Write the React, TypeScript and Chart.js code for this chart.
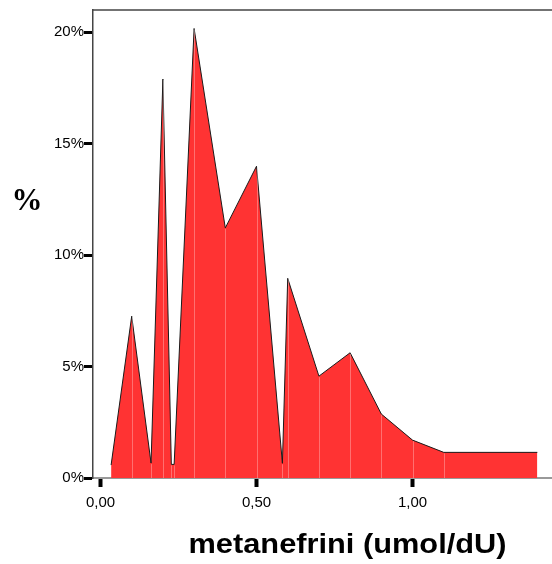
import React, { useEffect, useRef } from 'react';
import { Chart, registerables } from 'chart.js';

Chart.register(...registerables);

// metanefrini (umol/dU) values
const xValues = [0.034, 0.1, 0.162, 0.2, 0.227, 0.236, 0.3, 0.4, 0.5, 0.583, 0.6, 0.7, 0.8, 0.9, 1.0, 1.1, 1.4];
// percent of cases
const percentValues = [0.58, 7.26, 0.67, 17.9, 0.61, 0.61, 20.17, 11.22, 13.99, 0.66, 8.96, 4.57, 5.62, 2.87, 1.7, 1.15, 1.15];

const xTicks = [0, 0.5, 1.0];
const yTicks = [0, 5, 10, 15, 20];
const xTitle = 'metanefrini (umol/dU)';
const yTitle = '%';

const overlay = {
  id: 'overlay',
  afterDatasetsDraw(chart: any) {
    const { ctx, scales, chartArea } = chart;
    const xs = scales.x;
    const ys = scales.y;
    ctx.save();
    ctx.strokeStyle = 'rgba(255,255,255,0.3)';
    ctx.lineWidth = 1;
    for (let i = 1; i < xValues.length - 1; i++) {
      const px = Math.round(xs.getPixelForValue(xValues[i])) + 0.5;
      ctx.beginPath();
      ctx.moveTo(px, ys.getPixelForValue(percentValues[i]) + 1);
      ctx.lineTo(px, ys.getPixelForValue(0));
      ctx.stroke();
    }
    // top border
    ctx.strokeStyle = '#444';
    ctx.lineWidth = 1.5;
    ctx.beginPath();
    ctx.moveTo(chartArea.left, chartArea.top);
    ctx.lineTo(chart.width, chartArea.top);
    ctx.stroke();
    ctx.restore();
  },
  afterDraw(chart: any) {
    const { ctx } = chart;
    ctx.save();
    ctx.fillStyle = '#000';
    ctx.font = 'bold 27px "Liberation Sans", Arial, sans-serif';
    ctx.textAlign = 'center';
    ctx.textBaseline = 'alphabetic';
    const w = ctx.measureText(xTitle).width;
    const sx = 318 / w;
    ctx.translate(347.5, 553);
    ctx.scale(sx, 1);
    ctx.fillText(xTitle, 0, 0);
    ctx.restore();
    ctx.save();
    ctx.fillStyle = '#000';
    ctx.font = 'bold 31px "Liberation Serif", "Times New Roman", serif';
    ctx.textAlign = 'center';
    ctx.textBaseline = 'middle';
    ctx.fillText(yTitle, 27, 202);
    ctx.restore();
  },
};

export default function App() {
  const ref = useRef<HTMLCanvasElement>(null);
  useEffect(() => {
    const canvas = ref.current!;
    const chart = new Chart(canvas, {
      type: 'line',
      data: {
        datasets: [
          {
            data: xValues.map((x, i) => ({ x, y: percentValues[i] })),
            fill: 'origin',
            backgroundColor: 'rgb(255,51,51)',
            borderColor: '#1a1a1a',
            borderWidth: 1,
            pointRadius: 0,
            tension: 0,
          },
        ],
      },
      options: {
        responsive: false,
        maintainAspectRatio: false,
        animation: false,
        layout: { padding: { left: 0, right: 0, top: 10, bottom: 0 } },
        plugins: { legend: { display: false }, tooltip: { enabled: false } },
        scales: {
          x: {
            type: 'linear',
            min: -0.024,
            max: 1.447,
            afterBuildTicks: (s: any) => {
              s.ticks = xTicks.map((v) => ({ value: v }));
            },
            afterFit: (s: any) => {
              s.height = 86;
            },
            grid: { drawOnChartArea: false, drawTicks: true, tickLength: 9, tickWidth: 4, tickColor: '#000' },
            border: { color: '#999', width: 2 },
            ticks: {
              padding: 7,
              color: '#000',
              font: { family: '"Liberation Sans", Arial, sans-serif', size: 15 },
              callback: (v: any) => Number(v).toFixed(2).replace('.', ','),
            },
          },
          y: {
            type: 'linear',
            min: 0,
            max: 21,
            afterBuildTicks: (s: any) => {
              s.ticks = yTicks.map((v) => ({ value: v }));
            },
            afterFit: (s: any) => {
              s.width = 93;
            },
            grid: { drawOnChartArea: false, drawTicks: true, tickLength: 9, tickWidth: 3, tickColor: '#000' },
            border: { color: '#444', width: 1.5 },
            ticks: {
              padding: 0,
              color: '#000',
              font: { family: '"Liberation Sans", Arial, sans-serif', size: 15 },
              callback: (v: any) => v + '%',
            },
          },
        },
      },
      plugins: [overlay],
    });
    return () => chart.destroy();
  }, []);
  return (
    <div style={{ position: 'fixed', left: 0, top: 0, width: 552, height: 564, background: '#fff' }}>
      <canvas ref={ref} width={552} height={564} style={{ display: 'block', width: 552, height: 564 }} />
    </div>
  );
}
